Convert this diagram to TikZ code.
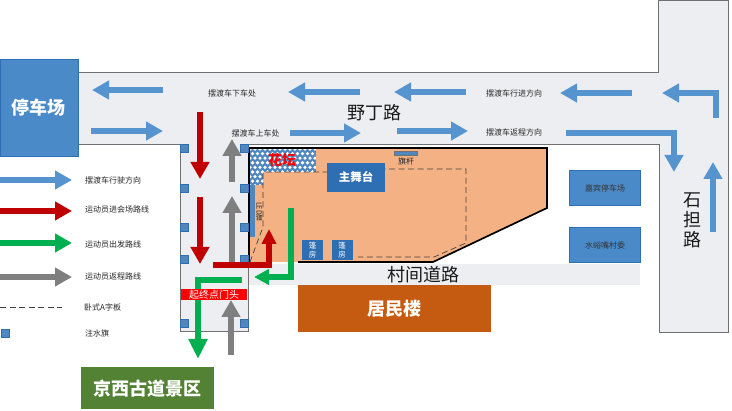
\documentclass[tikz,border=0pt]{standalone}
\usepackage{fontspec}
\setmainfont{Noto Sans CJK SC}
\usetikzlibrary{arrows.meta}
\definecolor{roadgray}{RGB}{236,238,241}
\definecolor{edgegray}{RGB}{110,112,115}
\definecolor{busblue}{RGB}{86,148,208}
\definecolor{boxblue}{RGB}{74,138,200}
\definecolor{stageblue}{RGB}{46,110,178}
\definecolor{flagblue}{RGB}{80,135,190}
\definecolor{sitepeach}{RGB}{244,178,132}
\definecolor{runred}{RGB}{192,0,0}
\definecolor{rungreen}{RGB}{0,176,80}
\definecolor{rungray}{RGB}{127,127,127}
\definecolor{blockbrown}{RGB}{197,90,17}
\definecolor{scenicgreen}{RGB}{84,130,53}
\tikzset{
  busarrow/.style={line width=6pt, busblue, -{Triangle[width=18pt,length=17pt]}},
  redarrow/.style={line width=6pt, runred, -{Triangle[width=18pt,length=17pt]}},
  greenarrow/.style={line width=6pt, rungreen, -{Triangle[width=18pt,length=17pt]}},
  grayarrow/.style={line width=6pt, rungray, -{Triangle[width=18pt,length=17pt]}},
  boardline/.style={dash pattern=on 6pt off 3.5pt, line width=0.7pt, black!75},
  flagbox/.style={draw=stageblue, fill=flagblue, minimum size=8pt, inner sep=0pt},
  smalltext/.style={font=\fontsize{8pt}{9pt}\selectfont, inner sep=0pt, text=black!85},
  bigtext/.style={font=\fontsize{18pt}{20pt}\selectfont, inner sep=0pt, text=black!90},
  filltext/.style={text=white, inner sep=0pt, font=\bfseries\fontsize{18pt}{20pt}\selectfont},
  bluebox/.style={draw=stageblue, fill=boxblue, inner sep=0pt, minimum width=71pt, minimum height=35pt, font=\fontsize{8pt}{9pt}\selectfont, text=black!80},
  tentbox/.style={fill=stageblue, minimum width=21pt, minimum height=20pt, inner sep=0pt, align=center, text=white, font=\fontsize{7.5pt}{8.5pt}\selectfont}
}
\begin{document}
\begin{tikzpicture}[x=1pt,y=-1pt]
\useasboundingbox (0,0) rectangle (732,411);
\fill [white] (0,0) rectangle (732,411);
% roads
\draw [line width=1pt, edgegray, fill=roadgray] (78,73) -- (658,73) -- (658,1) -- (728,1) -- (728,333) -- (659,333) -- (659,145) -- (248,145) -- (248,332) -- (180,332) -- (180,145) -- (78,145) -- cycle;
\fill [roadgray] (249,264) rectangle (640,285);
% site
\fill [sitepeach] (250,148) -- (547,148) -- (547,208) -- (433,262) -- (250,262) -- cycle;
\begin{scope}
\clip (250,148) -- (316,148) -- (316,172) -- (263,172) -- (263,185) -- (250,185) -- cycle;
\fill [flagblue] (250,148) rectangle (316,185);
\foreach \i in {0,...,13} \foreach \j in {0,...,8}
  \fill [white] ({250+\i*5+mod(\j,2)*2.5},{149+\j*4.6}) circle [radius=1.8];
\end{scope}
\draw [line width=1.7pt] (249,262) -- (249,148) -- (547,148) -- (547,208) -- (433,262) -- (298,262);
% a-boards
\draw [boardline] (250,262) -- (263,227) -- (263,172) -- (327,172) -- (385,169) -- (466,169) -- (466,243) -- (434,257) -- (358,257);
\fill [flagblue] (250,185) rectangle (255,237);
\node [smalltext, rotate=-90, font=\fontsize{7pt}{8pt}\selectfont] (ledlabel) at (259,212) {LED屏};
\node [text=red, inner sep=0pt, font=\bfseries\fontsize{14pt}{15pt}\selectfont] (bedlabel) at (282,160) {花坛};
% blocks
\node [draw=stageblue, fill=boxblue, minimum width=78pt, minimum height=97pt, filltext] (parking) at (39,108) {停车场};
\node [tentbox] (tentone) at (312.5,250) {篷\\房};
\node [tentbox] (tenttwo) at (342,250) {篷\\房};
\node [fill=stageblue, minimum width=58pt, minimum height=29pt, filltext, font=\bfseries\fontsize{11.5pt}{13pt}\selectfont] (stage) at (356,177.5) {主舞台};
\node [bluebox] (guest) at (605,188) {嘉宾停车场};
\node [bluebox] (village) at (605,245) {水峪嘴村委};
\node [fill=blockbrown, minimum width=193pt, minimum height=47pt, filltext] (homes) at (394.5,308.5) {居民楼};
\node [fill=scenicgreen, minimum width=133pt, minimum height=42pt, filltext] (scenic) at (147.5,388.5) {京西古道景区};
\draw [draw=edgegray, fill=flagblue] (394,151) rectangle (417,155);
\node [smalltext] (polelabel) at (406,161) {旗杆};
% water flags
\foreach \x/\y [count=\i] in {184/148,184/188,184/227,184/259,244/148,244/188,244/227,244/259,184/323,244/323}
  \node [flagbox] (flag\i) at (\x,\y) {};
% shuttle
\draw [busarrow] (163,90) -- (92,90);
\draw [busarrow] (91,131) -- (163,131);
\draw [busarrow] (360,92) -- (288,92);
\draw [busarrow] (466,92) -- (394,92);
\draw [busarrow] (632,93) -- (560,93);
\draw [busarrow] (716,118) -- (716,93) -- (662,93);
\draw [busarrow] (290,133) -- (361,133);
\draw [busarrow] (397,131) -- (468,131);
\draw [busarrow] (566,133) -- (674,133) -- (674,172);
\draw [busarrow] (713,232) -- (713,162);
% runners in
\draw [redarrow] (200,112) -- (200,179);
\draw [redarrow] (200,197) -- (200,264);
\draw [redarrow, -{Triangle[width=14pt,length=15pt]}] (213,265) -- (269,265) -- (269,229);
% runners back
\draw [grayarrow] (232,182) -- (232,139);
\draw [grayarrow] (232,262) -- (232,196);
\draw [grayarrow] (231,355) -- (231,300);
% runners out
\draw [greenarrow, -{Triangle[width=15pt,length=15pt]}] (291,208) -- (291,277) -- (254,277);
\draw [greenarrow, -{Triangle[width=18pt,length=20pt]}] (242,280) -- (198,280) -- (198,359);
% gate sits over the green route
\node [fill=red, minimum width=66pt, minimum height=11pt, text=white, inner sep=0pt, font=\fontsize{10pt}{11pt}\selectfont] (gate) at (214,294.5) {起终点门头};
% road names
\node [smalltext] (dropoff) at (232,93) {摆渡车下车处};
\node [smalltext] (pickup) at (255.5,133) {摆渡车上车处};
\node [smalltext] (onward) at (514,93) {摆渡车行进方向};
\node [smalltext] (backward) at (514,132) {摆渡车返程方向};
\node [bigtext] (yeding) at (374,113) {野丁路};
\node [bigtext] (villageroad) at (423,275) {村间道路};
\node [bigtext, align=center] (shidan) at (692,220) {石\\担\\路};
% legend
\draw [busarrow] (0,180) -- (72,180);
\draw [redarrow] (0,211) -- (72,211);
\draw [greenarrow] (0,243) -- (72,243);
\draw [grayarrow] (0,277) -- (72,277);
\draw [boardline] (0,307) -- (62,307);
\node [flagbox] (flagkey) at (5,333) {};
\node [smalltext, anchor=west] (keybus) at (85,180) {摆渡车行驶方向};
\node [smalltext, anchor=west] (keyred) at (85,209) {运动员进会场路线};
\node [smalltext, anchor=west] (keygreen) at (85,244) {运动员出发路线};
\node [smalltext, anchor=west] (keygray) at (85,276) {运动员返程路线};
\node [smalltext, anchor=west] (keyboard) at (84,307) {卧式A字板};
\node [smalltext, anchor=west] (keyflag) at (85,333) {注水旗};
\end{tikzpicture}
\end{document}
